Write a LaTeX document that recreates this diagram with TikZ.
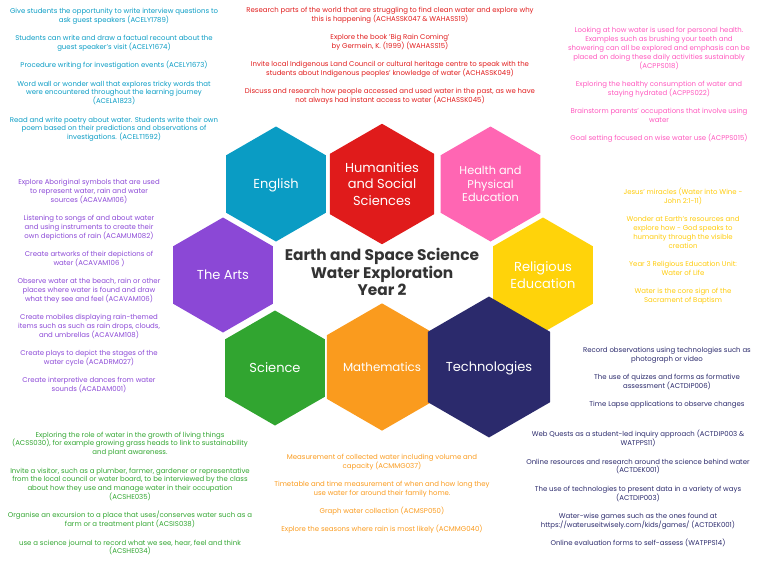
\documentclass[tikz,border=0pt]{standalone}
\usepackage{fontspec}
\setmainfont{Poppins}
\usetikzlibrary{shapes.geometric}

\definecolor{englishblue}{HTML}{0A9CC4}
\definecolor{hassred}{HTML}{E01B1B}
\definecolor{healthpink}{HTML}{FF66B3}
\definecolor{artspurple}{HTML}{8B48D6}
\definecolor{relyellow}{HTML}{FFD30A}
\definecolor{sciencegreen}{HTML}{31A530}
\definecolor{mathsorange}{HTML}{FA9B1E}
\definecolor{technavy}{HTML}{2B2A6C}
\definecolor{titlegrey}{HTML}{333333}

\newcommand{\pgap}{\\[9.3pt]}

\begin{document}
\begin{tikzpicture}[x=1pt,y=-1pt,
    hexa/.style={regular polygon,regular polygon sides=6,shape border rotate=30,
        minimum size=115pt,inner sep=0pt,outer sep=0pt,fill=#1,text=white,
        align=center,font=\fontsize{13}{16.5}\selectfont},
    notes/.style={align=center,inner sep=0pt,text=#1,
        font=\fontsize{6.95}{8.9}\selectfont}]
    \useasboundingbox (0,0) rectangle (768,576);

    % hexagons round the title
    \node[hexa=englishblue,text depth=0pt] (english) at (276,184) {English};
    \node[hexa=hassred] (hass) at (382,184) {Humanities\\and Social\\Sciences};
    \node[hexa=healthpink,font=\fontsize{11.3}{13.5}\selectfont] (health) at (490.5,184)
        {Health and\\Physical\\Education};
    \node[hexa=artspurple,text depth=0pt] (arts) at (223,275) {The Arts};
    \node[hexa=relyellow] (religious) at (543,275) {Religious\\Education};
    \node[hexa=sciencegreen] (science) at (275,368) {Science};
    \node[hexa=mathsorange,text depth=0pt,font=\fontsize{11.8}{14}\selectfont]
        (maths) at (382,367) {Mathematics};
    \node[hexa=technavy,text depth=0pt] (tech) at (489,367) {Technologies};

    \node[align=center,text=titlegrey,font=\fontsize{15.4}{17.7}\selectfont\bfseries]
        (title) at (382,272)
        {Earth and Space Science\\Water Exploration\\Year 2};

    % notes for each learning area
    \node[notes=englishblue] (englishnotes) at (114,75)
        {Give students the opportunity to write interview questions to\\
         ask guest speakers (ACELY1789)\pgap
         Students can write and draw a factual recount about the\\
         guest speaker's visit (ACELY1674)\pgap
         Procedure writing for investigation events (ACELY1673)\pgap
         Word wall or wonder wall that explores tricky words that\\
         were encountered throughout the learning journey\\
         (ACELA1823)\pgap
         Read and write poetry about water. Students write their own\\
         poem based on their predictions and observations of\\
         investigations. (ACELT1592)};

    \node[notes=hassred] (hassnotes) at (390,56)
        {Research parts of the world that are struggling to find clean water and explore why\\
         this is happening (ACHASSK047 \& WAHASS19)\pgap
         Explore the book 'Big Rain Coming'\\
         by Germein, K. (1999) (WAHASS15)\pgap
         Invite local Indigenous Land Council or cultural heritage centre to speak with the\\
         students about Indigenous peoples' knowledge of water (ACHASSK049)\pgap
         Discuss and research how people accessed and used water in the past, as we have\\
         not always had instant access to water (ACHASSK045)};

    \node[notes=healthpink!85!magenta] (healthnotes) at (659,85)
        {Looking at how water is used for personal health.\\
         Examples such as brushing your teeth and\\
         showering can all be explored and emphasis can be\\
         placed on doing these daily activities sustainably\\
         (ACPPS018)\pgap
         Exploring the healthy consumption of water and\\
         staying hydrated (ACPPS022)\pgap
         Brainstorm parents' occupations that involve using\\
         water\pgap
         Goal setting focused on wise water use (ACPPS015)};

    \node[notes=artspurple] (artsnotes) at (89,286)
        {Explore Aboriginal symbols that are used\\
         to represent water, rain and water\\
         sources (ACAVAM106)\pgap
         Listening to songs of and about water\\
         and using instruments to create their\\
         own depictions of rain (ACAMUM082)\pgap
         Create artworks of their depictions of\\
         water (ACAVAM106 )\pgap
         Observe water at the beach, rain or other\\
         places where water is found and draw\\
         what they see and feel (ACAVAM106)\pgap
         Create mobiles displaying rain-themed\\
         items such as such as rain drops, clouds,\\
         and umbrellas (ACAVAM108)\pgap
         Create plays to depict the stages of the\\
         water cycle (ACADRM027)\pgap
         Create interpretive dances from water\\
         sounds (ACADAM001)};

    \node[notes=relyellow!90!orange] (religiousnotes) at (683,246.5)
        {Jesus' miracles (Water into Wine -\\
         John 2:1-11)\pgap
         Wonder at Earth's resources and\\
         explore how - God speaks to\\
         humanity through the visible\\
         creation\pgap
         Year 3 Religious Education Unit:\\
         Water of Life\pgap
         Water is the core sign of the\\
         Sacrament of Baptism};

    \node[notes=technavy] (technotes) at (667,377.5)
        {Record observations using technologies such as\\
         photograph or video\pgap
         The use of quizzes and forms as formative\\
         assessment (ACTDIP006)\pgap
         Time Lapse applications to observe changes};

    \node[notes=sciencegreen] (sciencenotes) at (130,493.5)
        {Exploring the role of water in the growth of living things\\
         (ACSS030), for example growing grass heads to link to sustainability\\
         and plant awareness.\pgap
         Invite a visitor, such as a plumber, farmer, gardener or representative\\
         from the local council or water board, to be interviewed by the class\\
         about how they use and manage water in their occupation\\
         (ACSHE035)\pgap
         Organise an excursion to a place that uses/conserves water such as a\\
         farm or a treatment plant (ACSIS038)\pgap
         use a science journal to record what we see, hear, feel and think\\
         (ACSHE034)};

    \node[notes=mathsorange] (mathsnotes) at (382,494)
        {Measurement of collected water including volume and\\
         capacity (ACMMG037)\pgap
         Timetable and time measurement of when and how long they\\
         use water for around their family home.\pgap
         Graph water collection (ACMSP050)\pgap
         Explore the seasons where rain is most likely (ACMMG040)};

    \node[notes=technavy] (techmorenotes) at (638,488.5)
        {Web Quests as a student-led inquiry approach (ACTDIP003 \&\\
         WATPPS11)\pgap
         Online resources and research around the science behind water\\
         (ACTDEK001)\pgap
         The use of technologies to present data in a variety of ways\\
         (ACTDIP003)\pgap
         Water-wise games such as the ones found at\\
         https://wateruseitwisely.com/kids/games/ (ACTDEK001)\pgap
         Online evaluation forms to self-assess (WATPPS14)};
\end{tikzpicture}
\end{document}
